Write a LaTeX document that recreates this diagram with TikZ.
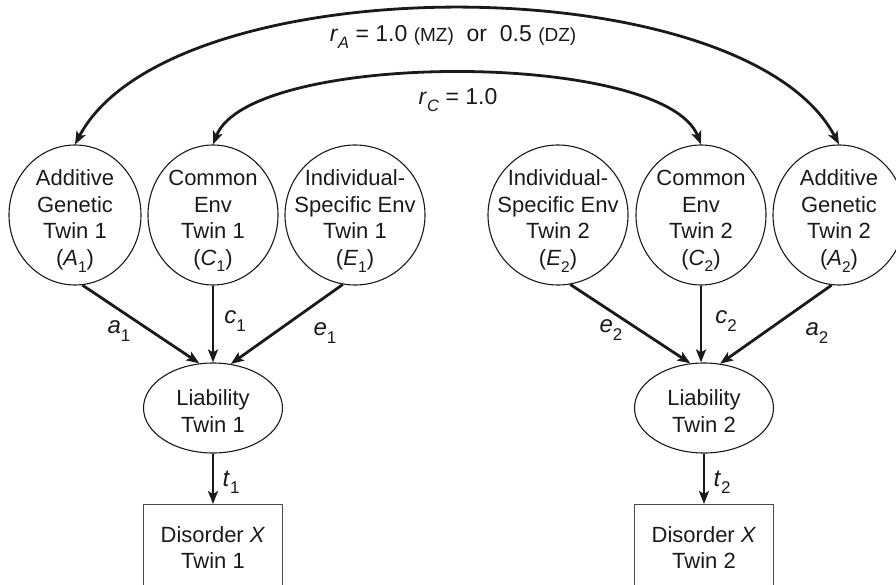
\documentclass[tikz,border=0pt]{standalone}
\usepackage{fontspec}
\setmainfont{Liberation Sans}
\usetikzlibrary{arrows.meta,shapes.geometric}
\definecolor{ink}{HTML}{1A1A1A}
\definecolor{boxgray}{HTML}{4A4A4A}
% lowered subscript in the text face; optional size
\newcommand{\sbx}[2][15.5]{\raisebox{-0.3em}{\fontsize{#1}{#1}\selectfont #2}}
\begin{document}
\begin{tikzpicture}[x=1pt,y=-1pt,
  every node/.style={font=\fontsize{22}{26.5}\selectfont, text=ink},
  latent/.style={ellipse, draw=ink, line width=1.1pt, inner sep=0pt,
                 minimum height=140pt},
  label/.style={align=center, inner sep=0pt},
  liab/.style={ellipse, draw=ink, line width=1.1pt, inner sep=0pt,
               minimum width=139pt, minimum height=90pt},
  obsbox/.style={draw=boxgray, line width=1.3pt, minimum width=139pt,
                 minimum height=110pt, anchor=north},
  loading/.style={-{Stealth[length=13pt,width=10pt,inset=3pt]}, line width=2.8pt, draw=ink},
  corr/.style={{Stealth[length=13pt,width=10pt,inset=3pt]}-{Stealth[length=13pt,width=10pt,inset=3pt]},
               line width=2.8pt, draw=ink},
  coef/.style={font=\fontsize{24}{26}\selectfont, inner sep=1pt},
  toplab/.style={font=\fontsize{23}{26}\selectfont, inner sep=1pt}
]
\useasboundingbox (0,0) rectangle (896,585);

% latent factors, twin 1
\node[latent, minimum width=132pt] (A1) at (75,215) {};
\node[latent, minimum width=130pt] (C1) at (213,215) {};
\node[latent, minimum width=140pt] (E1) at (355,215) {};
\node[label] (A1t) at (75,221) {Additive\\Genetic\\Twin 1\\(\textit{A}\sbx{1})};
\node[label] (C1t) at (213,221) {Common\\Env\\Twin 1\\(\textit{C}\sbx{1})};
\node[label] (E1t) at (355,221) {Individual-\\Specific Env\\Twin 1\\(\textit{E}\sbx{1})};

% latent factors, twin 2
\node[latent, minimum width=140pt] (E2) at (558,215) {};
\node[latent, minimum width=130pt] (C2) at (701,215) {};
\node[latent, minimum width=132pt] (A2) at (839,215) {};
\node[label] (E2t) at (558,221) {Individual-\\Specific Env\\Twin 2\\(\textit{E}\sbx{2})};
\node[label] (C2t) at (701,221) {Common\\Env\\Twin 2\\(\textit{C}\sbx{2})};
\node[label] (A2t) at (839,221) {Additive\\Genetic\\Twin 2\\(\textit{A}\sbx{2})};

% liabilities
\node[liab] (L1) at (213,408) {};
\node[liab] (L2) at (704,408) {};
\node[label] (L1t) at (213,411) {Liability\\Twin 1};
\node[label] (L2t) at (704,411) {Liability\\Twin 2};

% observed disorders
\node[obsbox] (D1) at (213,504) {};
\node[obsbox] (D2) at (704,504) {};
\node[label, anchor=north] (D1t) at (213,526) {Disorder \textit{X}\\Twin 1};
\node[label, anchor=north] (D2t) at (704,526) {Disorder \textit{X}\\Twin 2};

% paths to liabilities
\draw[loading] (A1.-84) -- (L1.107);
\draw[loading] (C1.south) -- (C1.south |- L1.north);
\draw[loading] (E1.-100) -- (L1.68);
\draw[loading] (E2.-80) -- (L2.107);
\draw[loading] (C2.south) -- (C2.south |- L2.north);
\draw[loading] (A2.-96) -- (L2.70);

% thresholds
\draw[loading] (L1.south) -- (D1.north);
\draw[loading] (L2.south) -- (D2.north);

% path coefficients
\node[coef] (la1) at (119,331) {\textit{a}\sbx[17]{1}};
\node[coef] (lc1) at (235,321) {\textit{c}\sbx[17]{1}};
\node[coef] (le1) at (325,333) {\textit{e}\sbx[17]{1}};
\node[coef] (le2) at (611,330) {\textit{e}\sbx[17]{2}};
\node[coef] (lc2) at (726,321) {\textit{c}\sbx[17]{2}};
\node[coef] (la2) at (817,333) {\textit{a}\sbx[17]{2}};
\node[coef] (lt1) at (231,482) {\textit{t}\sbx[17]{1}};
\node[coef] (lt2) at (722,482) {\textit{t}\sbx[17]{2}};

% twin correlations
\draw[corr] (A1.north) .. controls (170,-36) and (744,-36) .. (A2.north);
\draw[corr] (C1.north) .. controls (250,50) and (664,50) .. (C2.north);
\node[toplab] (rA) at (453,37)
  {\textit{r}\sbx[16.5]{\textit{A}} = 1.0 {\fontsize{19}{22}\selectfont(MZ)}\ \ or\ \ 0.5 {\fontsize{19}{22}\selectfont(DZ)}};
\node[toplab] (rC) at (458,100) {\textit{r}\sbx[16.5]{\textit{C}} = 1.0};
\end{tikzpicture}
\end{document}
